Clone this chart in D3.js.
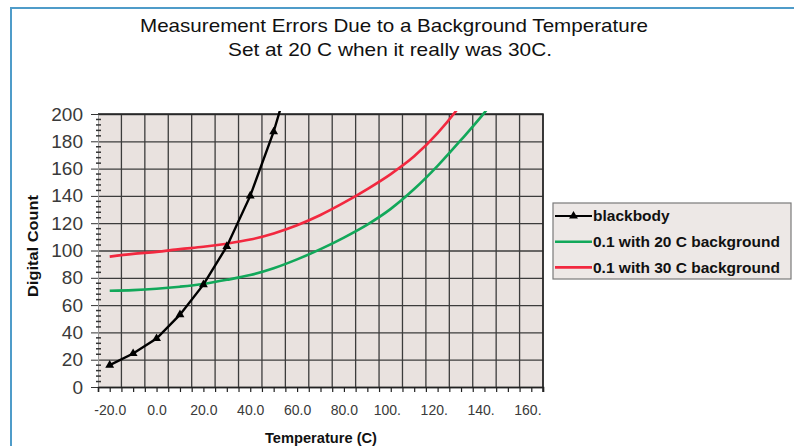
<!DOCTYPE html>
<html>
<head>
<meta charset="utf-8">
<script src="https://cdn.jsdelivr.net/npm/d3@7"></script>
<style>
  body { margin: 0; background: #fff; }
  svg { display: block; }
  text { font-family: "Liberation Sans", Arial, sans-serif; }
</style>
</head>
<body>
<div id="chart"></div>
<script>
// data
const bbTemps = [-20, -10, 0, 10, 20, 30, 40, 50, 60];
const blackbody = [16, 24.5, 35.5, 53, 75, 103, 140, 187, 245];

const bgTemps = [-20, -10, 0, 10, 20, 30, 40, 50, 60, 70, 80, 90, 100, 110, 120, 130, 140, 150];
const bg20 = [70.5, 71, 72, 73.5, 75.5, 78.5, 82, 87, 93.5, 101, 109.5, 119, 130.5, 145, 162, 181, 201, 224];
const bg30 = [95.5, 97.5, 99, 101, 102.7, 105, 108, 112.5, 118.5, 126, 135, 145, 156, 169, 186, 207, 232, 260];

const xLabels = ["-20.0", "0.0", "20.0", "40.0", "60.0", "80.0", "100.", "120.", "140.", "160."];
const xLabelVals = [-20, 0, 20, 40, 60, 80, 100, 120, 140, 160];
const yTicks = [0, 20, 40, 60, 80, 100, 120, 140, 160, 180, 200];

const seriesNames = ["blackbody", "0.1 with 20 C background", "0.1 with 30 C background"];
const seriesColors = ["#000000", "#12a85a", "#f2283f"];

const W = 794, H = 446;
const plot = { left: 98, right: 543, top: 114, bottom: 387 };

const svg = d3.select("#chart").append("svg")
    .attr("width", W)
    .attr("height", H);

// blue frame of the page
svg.append("path")
    .attr("d", `M11,${H} L11,8 L${W},8`)
    .attr("fill", "none")
    .attr("stroke", "#4f9cc9")
    .attr("stroke-width", 2);

const x = d3.scaleLinear().domain([-25, 165]).range([plot.left, plot.right]);
const y = d3.scaleLinear().domain([0, 200]).range([plot.bottom, plot.top]);

// plot background
svg.append("rect")
    .attr("x", plot.left).attr("y", plot.top)
    .attr("width", plot.right - plot.left)
    .attr("height", plot.bottom - plot.top)
    .attr("fill", "#e9e2df");

// grid
svg.append("g")
    .selectAll("line")
    .data(d3.range(-15, 166, 10))
    .join("line")
    .attr("x1", d => x(d)).attr("x2", d => x(d))
    .attr("y1", plot.top).attr("y2", plot.bottom)
    .attr("stroke", "#3c3c3c").attr("stroke-width", 1.3);

svg.append("g")
    .attr("transform", `translate(${plot.left},0)`)
    .call(d3.axisLeft(y).tickValues(yTicks).tickSize(-(plot.right - plot.left)).tickFormat(""))
    .call(g => g.select(".domain").remove())
    .call(g => g.selectAll("line").attr("stroke", "#3c3c3c").attr("stroke-width", 1.3));

// y axis: major ticks + labels
svg.append("g")
    .attr("transform", `translate(${plot.left},0)`)
    .call(d3.axisLeft(y).tickValues(yTicks).tickSize(7).tickPadding(8))
    .call(g => g.select(".domain").attr("stroke", "#9a9a9a"))
    .call(g => g.selectAll("line").attr("stroke", "#333"))
    .call(g => g.selectAll("text")
        .attr("font-size", 19)
        .attr("fill", "#3a3a3a")
        .attr("font-family", "'Liberation Sans', Arial, sans-serif"));

// y minor ticks
svg.append("g")
    .selectAll("line")
    .data(d3.range(4, 200, 4).filter(d => d % 20 !== 0))
    .join("line")
    .attr("x1", plot.left - 2).attr("x2", plot.left + 3)
    .attr("y1", d => y(d)).attr("y2", d => y(d))
    .attr("stroke", "#333").attr("stroke-width", 1.5);

// x axis ticks
svg.append("g")
    .attr("transform", `translate(0,${plot.bottom})`)
    .call(d3.axisBottom(x).tickValues(d3.range(-25, 166, 5)).tickSize(5).tickFormat(""))
    .call(g => g.select(".domain").attr("stroke", "#222").attr("stroke-width", 1.5))
    .call(g => g.selectAll("line").attr("stroke", "#222").attr("stroke-width", 1.2));

// x labels (truncated labels keep the position of the full label)
const xAxisLabels = svg.append("g")
    .attr("transform", `translate(0,${plot.bottom})`)
    .call(d3.axisBottom(x).tickValues(xLabelVals).tickSize(5).tickPadding(13)
        .tickFormat((d, i) => xLabels[i]))
    .call(g => g.select(".domain").remove())
    .call(g => g.selectAll("line").remove());
xAxisLabels.selectAll("text")
    .attr("font-size", 14)
    .attr("fill", "#3a3a3a")
    .attr("dx", (d, i) => xLabels[i].endsWith(".") ? -3.9 : 0);

// plot frame top and right
svg.append("path")
    .attr("d", `M${plot.left},${plot.top} L${plot.right},${plot.top} L${plot.right},${plot.bottom + 5}`)
    .attr("fill", "none")
    .attr("stroke", "#222")
    .attr("stroke-width", 1.5);

// clip for lines
svg.append("clipPath").attr("id", "clip")
    .append("rect")
    .attr("x", plot.left).attr("y", plot.top - 3)
    .attr("width", plot.right - plot.left)
    .attr("height", plot.bottom - plot.top + 3);

const lines = svg.append("g").attr("clip-path", "url(#clip)");

const smooth = d3.line()
    .x(d => x(d[0]))
    .y(d => y(d[1]))
    .curve(d3.curveMonotoneX);

lines.append("path")
    .datum(bgTemps.map((t, i) => [t, bg20[i]]))
    .attr("d", smooth)
    .attr("fill", "none")
    .attr("stroke", seriesColors[1])
    .attr("stroke-width", 2.6);

lines.append("path")
    .datum(bgTemps.map((t, i) => [t, bg30[i]]))
    .attr("d", smooth)
    .attr("fill", "none")
    .attr("stroke", seriesColors[2])
    .attr("stroke-width", 2.6);

const bbPts = bbTemps.map((t, i) => [t, blackbody[i]]);
lines.append("path")
    .datum(bbPts)
    .attr("d", d3.line().x(d => x(d[0])).y(d => y(d[1])))
    .attr("fill", "none")
    .attr("stroke", seriesColors[0])
    .attr("stroke-width", 2.4);

const tri = d3.symbol().type(d3.symbolTriangle).size(34);
lines.selectAll(".marker")
    .data(bbPts.filter(d => d[1] <= 200))
    .join("path")
    .attr("class", "marker")
    .attr("transform", d => `translate(${x(d[0])},${y(d[1])})`)
    .attr("d", tri)
    .attr("fill", "#000");

// titles
const title = svg.append("g").attr("text-anchor", "middle").attr("fill", "#111");
title.append("text")
    .attr("x", 394).attr("y", 32)
    .attr("font-size", 18.5)
    .attr("textLength", 508).attr("lengthAdjust", "spacingAndGlyphs")
    .text("Measurement Errors Due to a Background Temperature");
title.append("text")
    .attr("x", 390).attr("y", 56)
    .attr("font-size", 18.5)
    .attr("textLength", 324).attr("lengthAdjust", "spacingAndGlyphs")
    .text("Set at 20 C when it really was 30C.");

svg.append("text")
    .attr("transform", "translate(38,246) rotate(-90)")
    .attr("text-anchor", "middle")
    .attr("font-size", 15)
    .attr("font-weight", "bold")
    .attr("fill", "#111")
    .attr("textLength", 102).attr("lengthAdjust", "spacingAndGlyphs")
    .text("Digital Count");

svg.append("text")
    .attr("x", 321).attr("y", 443)
    .attr("text-anchor", "middle")
    .attr("font-size", 14.5)
    .attr("font-weight", "bold")
    .attr("fill", "#111")
    .attr("textLength", 112).attr("lengthAdjust", "spacingAndGlyphs")
    .text("Temperature (C)");

// legend
const legend = svg.append("g");
legend.append("rect")
    .attr("x", 553).attr("y", 203)
    .attr("width", 238).attr("height", 76)
    .attr("fill", "#ede8e6")
    .attr("stroke", "#7a7a7a")
    .attr("stroke-width", 1.2);

const items = legend.selectAll(".item")
    .data(seriesNames)
    .join("g")
    .attr("class", "item")
    .attr("transform", (d, i) => `translate(555,${216 + i * 25.7})`);

items.append("line")
    .attr("x1", 0).attr("x2", 37)
    .attr("stroke", (d, i) => seriesColors[i])
    .attr("stroke-width", (d, i) => i === 0 ? 2 : 2.6);

items.filter((d, i) => i === 0).append("path")
    .attr("transform", "translate(18.5,0)")
    .attr("d", tri)
    .attr("fill", "#000");

items.append("text")
    .attr("x", 38).attr("dy", "0.35em")
    .attr("font-size", 15.5)
    .attr("font-weight", "bold")
    .attr("fill", "#111")
    .text(d => d);
</script>
</body>
</html>
